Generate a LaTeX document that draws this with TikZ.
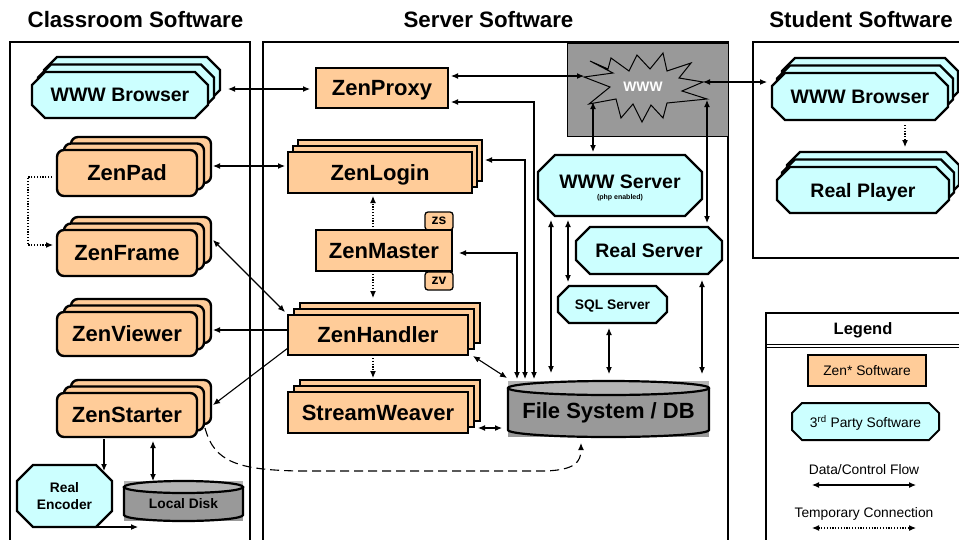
\documentclass[tikz,border=0pt]{standalone}
\usepackage{fontspec}
\setmainfont{Liberation Sans}
\usetikzlibrary{shadows,calc,arrows.meta,backgrounds}
\definecolor{zen}{HTML}{FFCC99}
\definecolor{cyl}{HTML}{CCFFFF}
\definecolor{gdk}{HTML}{999999}
\definecolor{glt}{HTML}{B4B4B4}
\newcommand\fTitle{\fontsize{22.3}{24}\selectfont\bfseries}
\newcommand\fZen{\fontsize{22}{24}\selectfont\bfseries}
\newcommand\fBig{\fontsize{19.5}{22}\selectfont\bfseries}
\newcommand\fMid{\fontsize{13.8}{17}\selectfont\bfseries}
\newcommand\fTag{\fontsize{14}{16}\selectfont\bfseries}
\newcommand\fReg{\fontsize{13.8}{16}\selectfont}
\newcommand\fTiny{\fontsize{7}{8}\selectfont\bfseries}
\newcommand\cylshape[3]{% node, y radius, x radius
  \begin{scope}[on background layer]
    \fill[glt] (#1.north west) rectangle ($(#1.north east)+(0,#2)$);
    \fill[gdk] ($(#1.north west)+(0,#2)$) rectangle (#1.south east);
    \draw[line width=2.2pt] ($(#1.north west)+(0,#2)$) -- ($(#1.south west)+(0,-#2)$)
      arc[start angle=180, end angle=360, x radius=#3pt, y radius=#2pt] -- ($(#1.north east)+(0,#2)$);
    \draw[line width=2.2pt, fill=glt] ($(#1.north)+(0,#2)$) ellipse [x radius=#3pt, y radius=#2pt];
  \end{scope}}
% octagon outline from a node's corners: name, chamfer, dx, dy (dy>0 is down)
\newcommand\octpath[4]{($(#1.north west)+(#3+#2,#4)$) -- ($(#1.north east)+(#3-#2,#4)$) -- ($(#1.north east)+(#3,#4+#2)$) -- ($(#1.south east)+(#3,#4-#2)$) -- ($(#1.south east)+(#3-#2,#4)$) -- ($(#1.south west)+(#3+#2,#4)$) -- ($(#1.south west)+(#3,#4-#2)$) -- ($(#1.north west)+(#3,#4+#2)$) -- cycle}
\newcommand\octdraw[6]{% name, chamfer, dx, dy, fill, line width
  \begin{scope}[on background layer]
    \draw[line width=#6pt, fill=#5] \octpath{#1}{#2}{#3}{#4};
  \end{scope}}
\tikzset{
  panel/.style={draw=black, line width=1.1pt},
  zenr/.style={draw=black, fill=zen, line width=2.4pt, rounded corners=7pt, inner sep=0pt, outer sep=0pt, text depth=0pt, font=\fZen},
  zens/.style={draw=black, fill=zen, line width=2.4pt, inner sep=0pt, outer sep=0pt, text depth=0pt, font=\fZen},
  octbox/.style={inner sep=0pt, outer sep=0pt, text depth=0pt, font=\fBig},
  stack/.style n args={3}{copy shadow={shadow xshift=2*#1, shadow yshift=2*#2, fill=#3, draw=black, line width=2.4pt}, copy shadow={shadow xshift=#1, shadow yshift=#2, fill=#3, draw=black, line width=2.4pt}},
  flow/.style={line width=1.1pt, {Latex[length=7pt,width=6pt]}-{Latex[length=7pt,width=6pt]}},
  oneway/.style={line width=1.1pt, -{Latex[length=7pt,width=6pt]}},
  temp/.style={line width=1.1pt, dash pattern=on 1.2pt off 1.6pt, -{Latex[length=7pt,width=6pt]}},
  tempboth/.style={line width=1.1pt, dash pattern=on 1.2pt off 1.6pt, {Latex[length=7pt,width=6pt]}-{Latex[length=7pt,width=6pt]}},
  dashflow/.style={line width=1.1pt, dash pattern=on 9pt off 5pt, -{Latex[length=7pt,width=6pt]}},
  cylnode/.style={inner sep=0pt, outer sep=0pt},
}
\begin{document}
\begin{tikzpicture}[x=1pt,y=-1pt]
\useasboundingbox (0,0) rectangle (959,539);
\clip (0,0) rectangle (959,539);

% titles
\node[font=\fTitle] (tcls) at (135.5,20) {Classroom Software};
\node[font=\fTitle] (tsrv) at (488.5,20) {Server Software};
\node[font=\fTitle] (tstu) at (861,20) {Student Software};

% panels
\draw[panel] (10,42) rectangle (250,560);
\draw[panel] (263,42) rectangle (728,560);
\draw[panel] (753,42) rectangle (980,258);
\draw[panel] (766,313) rectangle (980,560);
\draw[line width=1pt] (766,344) -- (980,344);
\draw[line width=1pt] (766,347) -- (980,347);

% WWW cloud box
\node[draw=black, fill=gdk, line width=1pt, minimum width=161, minimum height=93, inner sep=0pt, outer sep=0pt] (wwwbox) at (647.5,89.5) {};
\draw[line width=1pt] (590,61) -- (613,73) -- (584,77) -- (610,87) -- (589,104) -- (616,99) -- (621,118) -- (633,104) -- (642,122) -- (651,105) -- (663,118) -- (667,103) -- (707,99) -- (682,91) -- (703,82) -- (679,78) -- (691,63) -- (667,71) -- (663,53) -- (650,69) -- (637,55) -- (629,71) -- (611,58) -- (608,69) -- cycle;
\node[font=\fMid, text=white, inner sep=0pt] (www) at (643,87) {WWW};
\coordinate (wwwL) at (584,76);
\coordinate (wwwB) at (593,102);
\coordinate (wwwRB) at (707,100);
\coordinate (wwwR) at (703,82);

% classroom nodes
\node[octbox, minimum width=176, minimum height=46] (cbrow) at (120,95) {WWW Browser};
\octdraw{cbrow}{13}{12}{-15}{cyl}{2.4}
\octdraw{cbrow}{13}{6}{-7.5}{cyl}{2.4}
\octdraw{cbrow}{13}{0}{0}{cyl}{2.4}
\node[zenr, stack={7pt}{6.5pt}{zen}, minimum width=140, minimum height=46] (zpad) at (127,173) {ZenPad};
\node[zenr, stack={7pt}{6.5pt}{zen}, minimum width=140, minimum height=46] (zframe) at (127,253) {ZenFrame};
\node[zenr, stack={7pt}{6.5pt}{zen}, minimum width=140, minimum height=44] (zviewer) at (127,334) {ZenViewer};
\node[zenr, stack={7pt}{6.5pt}{zen}, minimum width=140, minimum height=44] (zstarter) at (127,415) {ZenStarter};
\node[octbox, font=\fMid, align=center, minimum width=95, minimum height=62] (renc) at (64.5,496) {Real\\Encoder};
\octdraw{renc}{16}{0}{0}{cyl}{2.4}
\node[cylnode, minimum width=119, minimum height=40, label={[font=\fMid, yshift=-3pt]center:Local Disk}] (ldisk) at (183.5,501) {};
\cylshape{ldisk}{6}{59.5}

% server nodes
\node[zens, minimum width=132, minimum height=40] (zproxy) at (382,88) {ZenProxy};
\node[zens, stack={5pt}{6pt}{zen}, minimum width=184, minimum height=41] (zlogin) at (380,172.5) {ZenLogin};
\node[zens, line width=1.3pt, rounded corners=3pt, minimum width=28, minimum height=18, font=\fTag] (zs) at (439,221) {zs};
\node[zens, line width=1.3pt, rounded corners=3pt, minimum width=28, minimum height=18, font=\fTag] (zv) at (439,281) {zv};
\node[zens, minimum width=136, minimum height=41] (zmaster) at (384,250.5) {ZenMaster};
\node[zens, stack={6pt}{6pt}{zen}, minimum width=180, minimum height=40] (zhandler) at (378,335) {ZenHandler};
\node[zens, stack={6pt}{6pt}{zen}, minimum width=180, minimum height=41] (sweaver) at (378,412.5) {StreamWeaver};
\node[cylnode, minimum width=201, minimum height=56, label={[font=\fZen, yshift=-4pt]center:File System / DB}] (fsdb) at (608.5,409) {};
\cylshape{fsdb}{7}{100.5}

\node[octbox, text depth=7pt, minimum width=164, minimum height=61, label={[font=\fTiny, yshift=-12.5pt]center:(php enabled)}] (wwwsrv) at (620,185.5) {WWW Server};
\octdraw{wwwsrv}{17}{0}{0}{cyl}{2.4}
\node[octbox, minimum width=146, minimum height=47] (realsrv) at (649,250.5) {Real Server};
\octdraw{realsrv}{14}{0}{0}{cyl}{2.4}
\node[octbox, font=\fMid, minimum width=109, minimum height=37] (sqlsrv) at (612.5,304.5) {SQL Server};
\octdraw{sqlsrv}{11}{0}{0}{cyl}{2.4}

% student nodes
\node[octbox, minimum width=176, minimum height=47] (sbrow) at (860,96.5) {WWW Browser};
\octdraw{sbrow}{13}{10}{-15}{cyl}{2.4}
\octdraw{sbrow}{13}{5}{-7.5}{cyl}{2.4}
\octdraw{sbrow}{13}{0}{0}{cyl}{2.4}
\node[octbox, minimum width=172, minimum height=46] (rplayer) at (863,190) {Real Player};
\octdraw{rplayer}{13}{10}{-15}{cyl}{2.4}
\octdraw{rplayer}{13}{5}{-7.5}{cyl}{2.4}
\octdraw{rplayer}{13}{0}{0}{cyl}{2.4}

% legend
\node[font=\fontsize{16.5}{18}\selectfont\bfseries] (legt) at (863,330.5) {Legend};
\node[zens, line width=2pt, font=\fReg, minimum width=118, minimum height=31] (lzen) at (867,370.5) {Zen* Software};
\node[octbox, font=\fReg, minimum width=147, minimum height=37] (lthird) at (865.5,421.5) {3\textsuperscript{rd} Party Software};
\octdraw{lthird}{10}{0}{0}{cyl}{2}
\node[font=\fReg] (ldata) at (864,470) {Data/Control Flow};
\node[font=\fReg] (ltemp) at (864,514) {Temporary Connection};
\coordinate (lfa) at (812,485);
\coordinate (lfb) at (916,485);
\coordinate (lta) at (812,528);
\coordinate (ltb) at (916,528);
\draw[flow] (lfa) -- (lfb);
\draw[tempboth] (lta) -- (ltb);

% connectors
\draw[flow] ($(cbrow.east)+(20,-6)$) -- ($(zproxy.west)+(-6,1)$);
\draw[flow] ($(zproxy.east)+(3,-12)$) -- (wwwL);
\draw[flow] ($(zproxy.east)+(3,14)$) -| ($(fsdb.north)+(-74.5,-2)$);
\draw[flow] ($(zlogin.east)+(13,-12.5)$) -| ($(fsdb.north)+(-83.5,-2)$);
\draw[flow] ($(zmaster.east)+(7,2.5)$) -| ($(fsdb.north)+(-91.5,-2)$);
\draw[flow] ($(wwwsrv.south)+(-69,4)$) -- ($(fsdb.north)+(-57.5,-8)$);
\draw[flow] ($(wwwsrv.south)+(-52,4)$) -- ($(sqlsrv.north)+(-44.5,-4)$);
\draw[flow] ($(sqlsrv.south)+(-3.5,5)$) -- ($(fsdb.north)+(0.5,-7)$);
\draw[flow] ($(realsrv.south)+(53,6)$) -- ($(fsdb.north)+(93.5,-7)$);
\draw[flow] (wwwB) -- ($(wwwsrv.north)+(-27,-3)$);
\draw[flow] (wwwRB) -- ($(realsrv.north)+(58,-4)$);
\draw[flow] (wwwR) -- ($(sbrow.west)+(-5,-14.5)$);
\draw[temp] ($(sbrow.south)+(45,5)$) -- ($(rplayer.north)+(42,-20)$);
\draw[flow] ($(zpad.east)+(16,-7)$) -- ($(zlogin.west)+(-3,-6.5)$);
\draw[flow] ($(zframe.east)+(16,-13)$) -- ($(zhandler.west)+(-3,-23)$);
\draw[oneway] ($(zhandler.west)+(0,-5)$) -- ($(zviewer.east)+(16,-4)$);
\draw[oneway] ($(zhandler.west)+(0,13)$) -- ($(zstarter.east)+(16,-10)$);
\draw[flow] ($(zhandler.south east)+(5,1)$) -- ($(fsdb.north west)+(-1,-3)$);
\draw[flow] ($(sweaver.east)+(10,15.5)$) -- ($(fsdb.west)+(-6,19)$);
\draw[temp] ($(zmaster.north)+(-11,0)$) -- ($(zlogin.south)+(-7,3)$);
\draw[temp] ($(zmaster.south)+(-11,0)$) -- ($(zhandler.north)+(-5,-17)$);
\draw[temp] ($(zhandler.south)+(-5,3)$) -- ($(sweaver.north)+(-5,-14)$);
\draw[temp] ($(zpad.west)+(-5,4)$) -- ++(-24,0) |- ($(zframe.west)+(-4,-8)$);
\draw[dashflow] ($(zstarter.south east)+(8,-9)$) .. controls (214,462) and (238,470) .. (300,471) -- (545,471) .. controls (575,470) and (581,462) .. ($(fsdb.south)+(-27.5,6)$);
\draw[oneway] ($(zstarter.south)+(-23,2)$) -- ($(renc.north)+(39.5,6)$);
\draw[flow] ($(zstarter.south)+(26,4)$) -- ($(ldisk.north)+(-30.5,0)$);
\draw[oneway] ($(renc.south)+(32.5,0)$) -- ($(ldisk.south west)+(14,6)$);
\end{tikzpicture}
\end{document}
